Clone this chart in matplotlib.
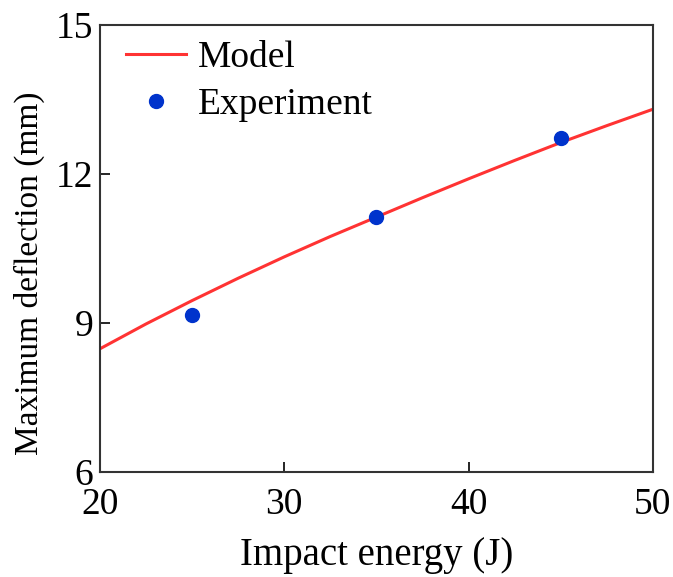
import matplotlib.pyplot as plt

plt.rcParams['font.family'] = ['Liberation Serif', 'DejaVu Serif']

# model curve
model_x = [20, 22.5, 25, 27.5, 30, 32.5, 35, 37.5, 40, 42.5, 45, 47.5, 50]
model_y = [8.48, 8.98, 9.45, 9.9, 10.33, 10.74, 11.13, 11.52, 11.9, 12.27, 12.63, 12.97, 13.3]

# experiment points
exp_x = [25, 35, 45]
exp_y = [9.16, 11.13, 12.72]

fig = plt.figure(figsize=(6.73, 5.77), dpi=100)
ax = fig.add_axes([0.1486, 0.182, 0.8214, 0.775])

ax.plot(model_x, model_y, color='#ff3333', lw=2.2, label='Model')
ax.plot(exp_x, exp_y, 'o', color='#0033cc', ms=10, label='Experiment')

ax.set_xlim(20, 50)
ax.set_ylim(6, 15)
ax.set_xticks([20, 30, 40, 50])
ax.set_yticks([6, 9, 12, 15])
ax.tick_params(direction='in', length=7, width=1.2, labelsize=27)
ax.tick_params(axis='x', pad=11)
ax.tick_params(axis='y', pad=5)
for s in ax.spines.values():
    s.set_linewidth(1.5)
    s.set_color('#333333')

ax.set_xlabel('Impact energy (J)', fontsize=28, labelpad=11)
ax.set_ylabel('Maximum deflection (mm)', fontsize=24)
ax.yaxis.set_label_coords(-0.1, 0.445)

ax.legend(loc='upper left', bbox_to_anchor=(0.0, 1.024), frameon=False,
          fontsize=27, handlelength=1.6, handletextpad=0.3,
          borderaxespad=0.3, labelspacing=0.35)

fig.savefig('out.png')
